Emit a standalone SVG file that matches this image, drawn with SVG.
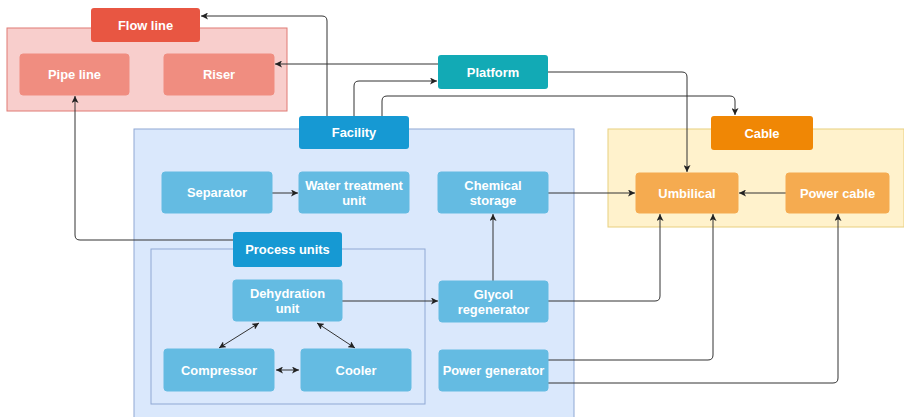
<svg xmlns="http://www.w3.org/2000/svg" width="904" height="417" viewBox="0 0 904 417">
<defs>
<marker id="ah" viewBox="0 0 10 10" refX="10" refY="5" markerWidth="7" markerHeight="7" markerUnits="userSpaceOnUse" orient="auto-start-reverse">
<path d="M0 0 L10 5 L0 10 L2.5 5 Z" fill="#222"/>
</marker>
<style>
.t{font-family:"Liberation Sans",Arial,sans-serif;font-weight:bold;font-size:12.9px;fill:#fff;text-anchor:middle;dominant-baseline:central}
.c{fill:none;stroke:#333;stroke-width:1}
.a{marker-end:url(#ah)}
.b{marker-start:url(#ah);marker-end:url(#ah)}
.blue{fill:#64bbe2;stroke:#64bbe2}
.red{fill:#f08d80;stroke:#f08d80}
.org{fill:#f5ab50;stroke:#f5ab50}
</style>
</defs>
<rect width="904" height="417" fill="#fff"/>
<g id="flowline-group">
<rect x="7" y="28" width="280" height="83" fill="#f8cecc" stroke="#e07b74"/>
</g>
<g id="cable-group">
<rect x="608" y="129" width="296" height="98" fill="#fff2cc" stroke="#e8cf7f"/>
</g>
<g id="facility-group">
<rect x="134" y="129" width="440" height="300" fill="#dae8fc" stroke="#8fa8d4"/>
</g>
<g id="process-group">
<rect x="151" y="249" width="274" height="155" fill="none" stroke="#8fa8d4"/>
</g>
<g id="connectors">
<path class="c a" d="M327 116 V21 Q327 16 322 16 H201"/>
<path class="c a" d="M438 64 H275"/>
<path class="c a" d="M354 116 V86 Q354 81 359 81 H437"/>
<path class="c a" d="M382 116 V101 Q382 96 387 96 H730 Q735 96 735 101 V115"/>
<path class="c a" d="M548 72 H682 Q687 72 687 77 V172"/>
<path class="c a" d="M548 193 H635"/>
<path class="c a" d="M786 193 H739"/>
<path class="c a" d="M272 193 H298"/>
<path class="c a" d="M233 240 H80 Q75 240 75 235 V96"/>
<path class="c a" d="M342 301 H438"/>
<path class="c a" d="M493 281 V214"/>
<path class="c a" d="M548 301 H655 Q660 301 660 296 V214"/>
<path class="c a" d="M548 360 H708 Q713 360 713 355 V214"/>
<path class="c a" d="M548 383 H833 Q838 383 838 378 V214"/>
<path class="c b" d="M259 323 L219 348"/>
<path class="c b" d="M317 323 L355 348"/>
<path class="c b" d="M276 370 H299"/>
</g>
<g id="flowline"><rect x="91" y="8" width="109" height="34" rx="3" fill="#e85642"/><text class="t" x="145.5" y="25">Flow line</text></g>
<g id="pipeline"><rect class="red" x="20" y="54" width="109" height="41" rx="3"/><text class="t" x="74.5" y="74.5">Pipe line</text></g>
<g id="riser"><rect class="red" x="164" y="54" width="110" height="41" rx="3"/><text class="t" x="219" y="74.5">Riser</text></g>
<g id="platform"><rect x="438" y="55" width="110" height="34" rx="3" fill="#12aab5"/><text class="t" x="493" y="72">Platform</text></g>
<g id="facility"><rect x="299" y="116" width="110" height="33" rx="3" fill="#1699d3"/><text class="t" x="354" y="132.5">Facility</text></g>
<g id="cable"><rect x="711" y="116" width="102" height="34" rx="3" fill="#f08705"/><text class="t" x="762" y="133">Cable</text></g>
<g id="separator"><rect class="blue" x="162" y="172" width="110" height="41" rx="3"/><text class="t" x="217" y="192.5">Separator</text></g>
<g id="water"><rect class="blue" x="299" y="172" width="110" height="41" rx="3"/><text class="t" x="354" y="185">Water treatment</text><text class="t" x="354" y="200">unit</text></g>
<g id="chemical"><rect class="blue" x="438" y="172" width="110" height="41" rx="3"/><text class="t" x="493" y="185">Chemical</text><text class="t" x="493" y="200">storage</text></g>
<g id="umbilical"><rect class="org" x="636" y="173" width="102" height="40" rx="3"/><text class="t" x="687" y="193">Umbilical</text></g>
<g id="powercable"><rect class="org" x="786" y="173" width="103" height="40" rx="3"/><text class="t" x="837.5" y="193">Power cable</text></g>
<g id="processunits"><rect x="233" y="232" width="109" height="35" rx="3" fill="#1699d3"/><text class="t" x="287.5" y="249.5">Process units</text></g>
<g id="dehydration"><rect class="blue" x="233" y="280" width="109" height="41" rx="3"/><text class="t" x="287.5" y="293">Dehydration</text><text class="t" x="287.5" y="308">unit</text></g>
<g id="glycol"><rect class="blue" x="439" y="281" width="109" height="41" rx="3"/><text class="t" x="493.5" y="294">Glycol</text><text class="t" x="493.5" y="309">regenerator</text></g>
<g id="compressor"><rect class="blue" x="164" y="349" width="110" height="42" rx="3"/><text class="t" x="219" y="370">Compressor</text></g>
<g id="cooler"><rect class="blue" x="301" y="349" width="110" height="42" rx="3"/><text class="t" x="356" y="370">Cooler</text></g>
<g id="powergen"><rect class="blue" x="439" y="350" width="109" height="41" rx="3"/><text class="t" x="493.5" y="370.5">Power generator</text></g>
</svg>
